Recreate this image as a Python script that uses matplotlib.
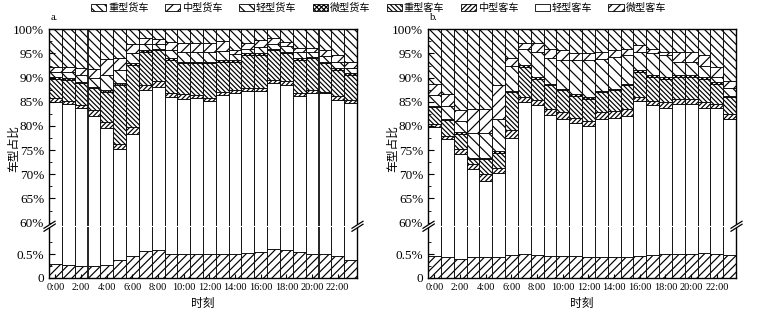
import matplotlib
matplotlib.use('Agg')
import matplotlib.pyplot as plt
import numpy as np
from matplotlib.patches import Patch, Polygon
from matplotlib.lines import Line2D

plt.rcParams['font.family'] = ['Liberation Serif', 'Noto Sans CJK SC']
plt.rcParams['hatch.linewidth'] = 0.85

hours = list(range(24))
tick_pos = list(range(0, 24, 2))
tick_labels = ['0:00', '2:00', '4:00', '6:00', '8:00', '10:00', '12:00', '14:00',
               '16:00', '18:00', '20:00', '22:00']

categories = ['重型货车', '中型货车', '轻型货车', '微型货车', '重型客车', '中型客车', '轻型客车', '微型客车']

# ---------- panel a (shares, %) ----------
a_mini_bus = [0.29, 0.27, 0.25, 0.25, 0.27, 0.38, 0.46, 0.56, 0.58, 0.49, 0.49, 0.50,
              0.51, 0.51, 0.51, 0.53, 0.54, 0.60, 0.58, 0.54, 0.51, 0.51, 0.46, 0.37]
a_light_bus = [84.71, 84.23, 83.45, 81.85, 79.23, 74.82, 77.84, 86.84, 87.52, 85.41, 85.11, 85.20,
               84.69, 85.89, 86.39, 86.67, 86.66, 88.20, 87.92, 85.56, 86.39, 86.29, 84.94, 84.33]
a_medium_bus = [0.8, 0.7, 0.7, 1.1, 1.4, 1.1, 1.4, 1.1, 1.1, 1.0, 1.0, 0.7,
                0.5, 0.7, 0.5, 0.6, 0.6, 0.7, 0.7, 0.7, 0.5, 0.3, 0.7, 0.7]
a_heavy_bus = [4.0, 4.4, 4.4, 4.6, 6.2, 12.2, 12.9, 6.9, 6.5, 6.8, 6.4, 6.6,
               7.3, 6.2, 5.9, 6.9, 6.9, 6.2, 5.8, 6.9, 6.6, 5.9, 5.5, 5.2]
a_mini_truck = [0.3, 0.3, 0.3, 0.3, 0.4, 0.4, 0.4, 0.3, 0.3, 0.3, 0.3, 0.3,
                0.3, 0.3, 0.3, 0.3, 0.3, 0.3, 0.3, 0.3, 0.3, 0.3, 0.3, 0.3]
a_light_truck = [1.1, 1.2, 1.4, 1.8, 3.1, 2.6, 2.0, 1.3, 1.0, 1.7, 2.0, 1.9,
                 1.9, 1.9, 1.2, 1.0, 1.3, 1.0, 1.2, 1.2, 1.0, 1.2, 1.3, 1.1]
a_medium_truck = [1.1, 1.2, 1.4, 1.8, 3.2, 2.6, 1.9, 1.1, 0.9, 1.7, 1.9, 1.9,
                  1.9, 2.0, 0.9, 1.1, 1.5, 1.1, 0.9, 0.9, 0.8, 1.2, 1.5, 1.3]
a_heavy_truck = [7.7, 7.7, 8.1, 8.3, 6.2, 5.9, 3.1, 1.9, 2.1, 2.6, 2.8, 2.9,
                 2.9, 2.5, 4.3, 2.9, 2.2, 1.9, 2.6, 3.9, 3.9, 4.3, 5.3, 6.7]

# ---------- panel b (shares, %) ----------
b_mini_bus = [0.46, 0.44, 0.39, 0.43, 0.44, 0.44, 0.47, 0.49, 0.47, 0.45, 0.45, 0.46,
              0.44, 0.43, 0.43, 0.43, 0.45, 0.47, 0.51, 0.51, 0.49, 0.52, 0.49, 0.47]
b_light_bus = [79.24, 76.76, 73.81, 70.57, 68.16, 69.76, 77.13, 84.41, 83.93, 81.75, 81.05, 80.24,
               79.56, 81.07, 81.27, 81.67, 84.75, 83.83, 83.29, 83.99, 84.01, 83.28, 83.31, 81.03]
b_medium_bus = [0.7, 0.8, 1.0, 1.1, 1.4, 1.1, 1.6, 1.1, 0.9, 1.3, 1.3, 1.0,
                1.0, 1.3, 1.4, 1.4, 0.7, 0.9, 1.1, 1.1, 1.1, 1.1, 0.7, 0.9]
b_heavy_bus = [3.5, 3.2, 3.2, 1.0, 3.1, 3.2, 7.8, 6.3, 4.5, 4.9, 4.6, 4.6,
               4.6, 4.2, 4.3, 4.9, 5.3, 5.0, 4.9, 4.6, 4.6, 4.9, 4.2, 3.6]
b_mini_truck = [0.3, 0.3, 0.3, 0.3, 0.3, 0.3, 0.3, 0.3, 0.3, 0.3, 0.3, 0.3,
                0.3, 0.3, 0.3, 0.3, 0.3, 0.3, 0.3, 0.3, 0.3, 0.3, 0.3, 0.3]
b_light_truck = [2.3, 2.7, 2.3, 5.1, 5.1, 6.7, 5.2, 3.4, 5.2, 5.3, 5.9, 7.0,
                 7.7, 6.6, 6.6, 5.9, 3.8, 4.5, 4.5, 2.7, 2.7, 2.4, 1.1, 1.5]
b_medium_truck = [2.2, 2.5, 2.2, 5.0, 5.0, 6.9, 1.6, 1.1, 1.8, 2.0, 2.1, 1.4,
                  1.4, 1.4, 1.4, 1.4, 1.4, 1.0, 0.7, 2.1, 2.1, 2.1, 2.1, 1.6]
b_heavy_truck = [11.3, 13.3, 16.8, 16.5, 16.5, 11.6, 5.9, 2.9, 2.9, 4.0, 4.3, 5.0,
                 5.0, 4.7, 4.3, 4.0, 3.3, 4.0, 4.7, 4.7, 4.7, 5.4, 7.8, 10.6]

hatches = {
    '重型货车': '\\\\\\\\',
    '中型货车': '///',
    '轻型货车': '\\\\\\',
    '微型货车': 'xxxxxxx',
    '重型客车': '\\\\\\\\\\\\\\',
    '中型客车': '///////',
    '轻型客车': '',
    '微型客车': '////',
}

panels = {
    'a': [a_mini_bus, a_light_bus, a_medium_bus, a_heavy_bus, a_mini_truck,
          a_light_truck, a_medium_truck, a_heavy_truck],
    'b': [b_mini_bus, b_light_bus, b_medium_bus, b_heavy_bus, b_mini_truck,
          b_light_truck, b_medium_truck, b_heavy_truck],
}
stack_names = ['微型客车', '轻型客车', '中型客车', '重型客车', '微型货车', '轻型货车', '中型货车', '重型货车']

W, H = 757, 321
fig = plt.figure(figsize=(W / 100, H / 100), dpi=100)

def fx(px):
    return px / W

def fy(py):
    return 1 - py / H

panel_x = {'a': (49, 357), 'b': (428, 736)}
y_top, y_break_t, y_break_b, y_bot = 29.3, 225.5, 227.0, 277.7

for key, (x0, x1) in panel_x.items():
    series = panels[key]
    ax_t = fig.add_axes([fx(x0), fy(y_break_t), fx(x1 - x0), fy(y_top) - fy(y_break_t)])
    ax_b = fig.add_axes([fx(x0), fy(y_bot), fx(x1 - x0), fy(y_break_b) - fy(y_bot)])
    for ax in (ax_t, ax_b):
        bottom = np.zeros(len(hours))
        for name, vals in zip(stack_names, series):
            vals = np.array(vals)
            ax.bar(hours, vals, width=1.0, bottom=bottom, color='white',
                   edgecolor='black', linewidth=0.6, hatch=hatches[name])
            bottom = bottom + vals
        ax.set_xlim(-0.5, 23.5)
        for s in ax.spines.values():
            s.set_linewidth(1.0)
        ax.tick_params(direction='in', labelsize=9.5, width=0.8)
    ax_t.set_ylim(59.4, 100)
    ax_t.spines['bottom'].set_visible(False)
    ax_t.set_yticks([60, 65, 70, 75, 80, 85, 90, 95, 100])
    ax_t.set_yticklabels(['60%', '65%', '70%', '75%', '80%', '85%', '90%', '95%', '100%'])
    ax_t.set_yticks([62.5, 67.5, 72.5, 77.5, 82.5, 87.5, 92.5, 97.5], minor=True)
    ax_t.tick_params(axis='y', which='major', length=4)
    ax_t.tick_params(axis='y', which='minor', direction='in', length=2, width=0.6)
    ax_t.set_xticks([])
    ax_t.tick_params(axis='x', which='both', bottom=False, labelbottom=False)

    ax_b.set_ylim(0, 1.07)
    ax_b.spines['top'].set_visible(False)
    ax_b.set_yticks([0, 0.5])
    ax_b.set_yticklabels(['0', '0.5%'])
    ax_b.set_yticks([0.25, 0.75], minor=True)
    ax_b.tick_params(axis='y', which='major', length=4)
    ax_b.tick_params(axis='y', which='minor', direction='in', length=2, width=0.6)
    ax_b.set_xticks(tick_pos)
    ax_b.set_xticklabels(tick_labels)
    ax_b.tick_params(axis='x', length=3, pad=4, labelsize=7.4)

    # break marks
    yb = (y_break_t + y_break_b) / 2
    for xs in (x0, x1):
        poly = Polygon([(fx(xs - 5), fy(yb + 2)), (fx(xs + 6), fy(yb - 5)),
                        (fx(xs + 6), fy(yb - 2)), (fx(xs - 5), fy(yb + 5))],
                       closed=True, transform=fig.transFigure, facecolor='white',
                       edgecolor='none', zorder=10)
        fig.patches.append(poly)
        for off in (0, 3):
            fig.lines.append(Line2D([fx(xs - 5), fx(xs + 6)],
                                    [fy(yb + 2 + off), fy(yb - 5 + off)],
                                    transform=fig.transFigure, color='black',
                                    linewidth=0.9, zorder=11))

    fig.text(fx(x0 + 2), fy(18), key + '.', fontsize=7.5, ha='left', va='center')
    fig.text(fx((x0 + x1) / 2), fy(304), '时刻', fontsize=8.5, ha='center', va='center')
    fig.text(fx(x0 - 35), fy(148), '车型占比', fontsize=8.5, rotation=90,
             ha='center', va='center')

handles = [Patch(facecolor='white', edgecolor='black', linewidth=0.6, hatch=hatches[c])
           for c in categories]
fig.legend(handles, categories, ncol=8, loc='center', bbox_to_anchor=(0.5, fy(8)),
           frameon=False, fontsize=7.3, handlelength=1.5, handleheight=0.75,
           handletextpad=0.2, columnspacing=1.6, borderpad=0.1)

fig.savefig('out.png', dpi=100)
